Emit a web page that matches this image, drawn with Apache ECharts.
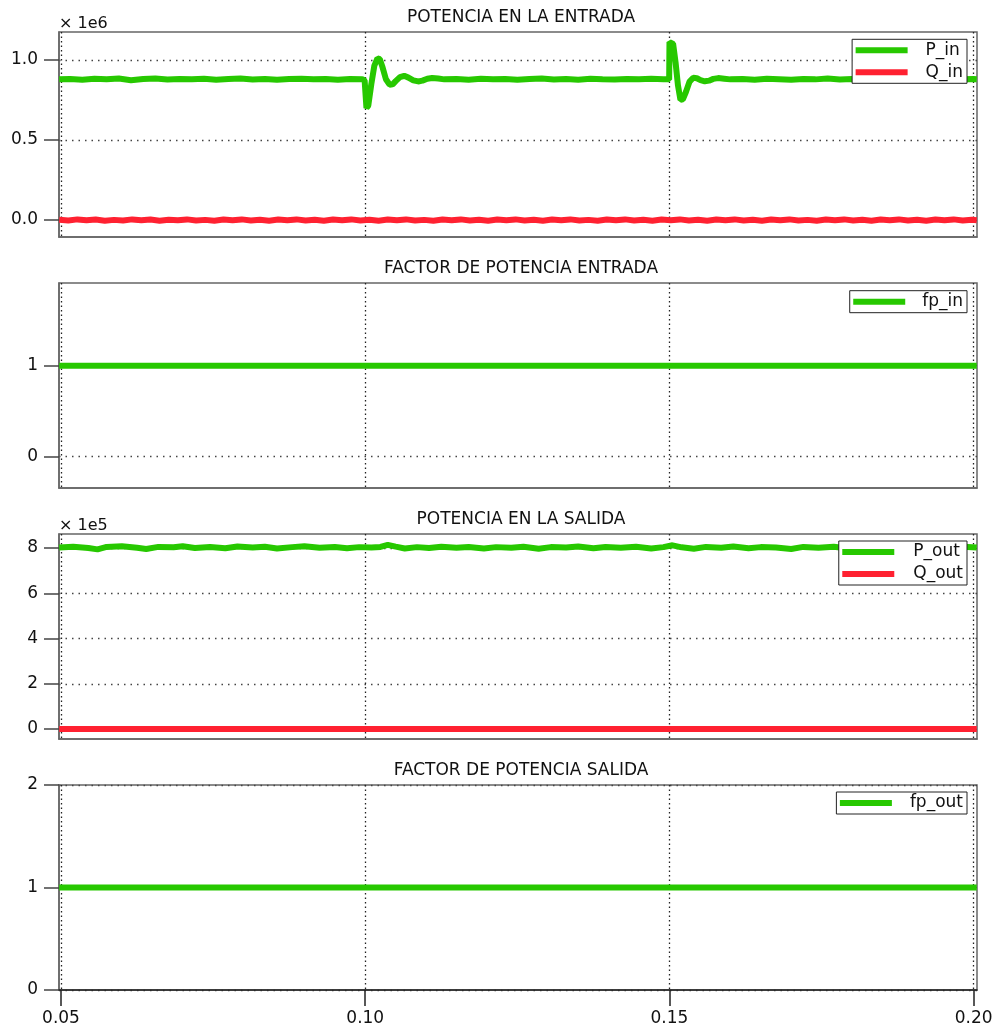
<!DOCTYPE html>
<html>
<head>
<meta charset="utf-8">
<script src="https://cdn.jsdelivr.net/npm/echarts@6/dist/echarts.min.js"></script>
<style>
html,body{margin:0;padding:0;background:#fff;}
#chart{width:1005px;height:1029px;}
</style>
</head>
<body>
<div id="chart"></div>
<script>
// ---------- DATA ----------
const titles = ['POTENCIA EN LA ENTRADA', 'FACTOR DE POTENCIA ENTRADA', 'POTENCIA EN LA SALIDA', 'FACTOR DE POTENCIA SALIDA'];
const xTicks = [0.05, 0.10, 0.15, 0.20];
const yTicks1 = [0, 0.5, 1.0];   // x 1e6
const yTicks2 = [0, 1];
const yTicks3 = [0, 2, 4, 6, 8]; // x 1e5
const yTicks4 = [0, 1, 2];

// P_in (x 1e6) : [time, value]
const pIn = [
[0.0497,0.879],[0.0515,0.882],[0.0535,0.877],[0.0555,0.883],[0.0575,0.880],[0.0595,0.884],[0.0615,0.874],[0.0635,0.881],[0.0655,0.884],[0.0675,0.878],
[0.0695,0.882],[0.0715,0.879],[0.0735,0.883],[0.0755,0.877],[0.0775,0.881],[0.0795,0.884],[0.0815,0.878],[0.0835,0.882],[0.0855,0.876],[0.0875,0.881],
[0.0895,0.883],[0.0915,0.879],[0.0935,0.882],[0.0955,0.877],[0.0975,0.881],[0.0995,0.880],
[0.0999,0.872],[0.1002,0.700],[0.1005,0.715],[0.1010,0.850],[0.1015,0.965],[0.1020,1.010],[0.1024,1.005],[0.1028,0.960],[0.1034,0.880],[0.1040,0.846],
[0.1045,0.848],[0.1050,0.868],[0.1057,0.893],[0.1064,0.901],[0.1071,0.890],[0.1079,0.873],[0.1087,0.866],[0.1094,0.871],[0.1102,0.883],[0.1110,0.888],
[0.1120,0.884],[0.1130,0.879],
[0.1150,0.882],[0.1170,0.877],[0.1190,0.883],[0.1210,0.879],[0.1230,0.881],[0.1250,0.876],[0.1270,0.882],[0.1290,0.884],[0.1310,0.878],[0.1330,0.881],
[0.1350,0.877],[0.1370,0.883],[0.1390,0.880],[0.1410,0.878],[0.1430,0.882],[0.1450,0.879],[0.1470,0.883],[0.1490,0.880],[0.14995,0.879],
[0.1500,1.112],[0.1503,1.118],[0.1506,1.100],[0.1510,0.985],[0.1514,0.840],[0.1518,0.752],[0.1522,0.755],[0.1527,0.800],[0.1533,0.865],[0.1539,0.889],
[0.1545,0.886],[0.1551,0.874],[0.1558,0.867],[0.1565,0.871],[0.1572,0.882],[0.1580,0.887],[0.1590,0.883],[0.1600,0.879],
[0.1620,0.882],[0.1640,0.877],[0.1660,0.883],[0.1680,0.880],[0.1700,0.876],[0.1720,0.882],[0.1740,0.879],[0.1760,0.884],[0.1780,0.878],[0.1800,0.881],
[0.1820,0.877],[0.1840,0.882],[0.1860,0.880],[0.1880,0.883],[0.1900,0.878],[0.1920,0.881],[0.1940,0.879],[0.1960,0.883],[0.1980,0.880],[0.2000,0.881],[0.2005,0.880]
];

// Q_in (x 1e6)
const qIn = [
[0.0497,0.002],[0.0512,-0.003],[0.0527,0.004],[0.0542,-0.002],[0.0557,0.003],[0.0572,-0.004],[0.0587,0.001],[0.0602,-0.003],[0.0617,0.004],[0.0632,-0.001],
[0.0647,0.003],[0.0662,-0.004],[0.0677,0.002],[0.0692,-0.002],[0.0707,0.004],[0.0722,-0.003],[0.0737,0.001],[0.0752,-0.004],[0.0767,0.003],[0.0782,-0.002],
[0.0797,0.004],[0.0812,-0.003],[0.0827,0.002],[0.0842,-0.004],[0.0857,0.003],[0.0872,-0.001],[0.0887,0.004],[0.0902,-0.003],[0.0917,0.002],[0.0932,-0.004],
[0.0947,0.003],[0.0962,-0.002],[0.0977,0.004],[0.0992,-0.003],[0.1007,0.002],[0.1022,-0.004],[0.1037,0.003],[0.1052,-0.002],[0.1067,0.004],[0.1082,-0.003],
[0.1097,0.001],[0.1112,-0.004],[0.1127,0.003],[0.1142,-0.002],[0.1157,0.004],[0.1172,-0.003],[0.1187,0.002],[0.1202,-0.004],[0.1217,0.003],[0.1232,-0.001],
[0.1247,0.004],[0.1262,-0.003],[0.1277,0.002],[0.1292,-0.004],[0.1307,0.003],[0.1322,-0.002],[0.1337,0.004],[0.1352,-0.003],[0.1367,0.001],[0.1382,-0.004],
[0.1397,0.003],[0.1412,-0.002],[0.1427,0.004],[0.1442,-0.003],[0.1457,0.002],[0.1472,-0.004],[0.1487,0.003],[0.1502,-0.002],[0.1517,0.004],[0.1532,-0.003],
[0.1547,0.002],[0.1562,-0.004],[0.1577,0.003],[0.1592,-0.001],[0.1607,0.004],[0.1622,-0.003],[0.1637,0.002],[0.1652,-0.004],[0.1667,0.003],[0.1682,-0.002],
[0.1697,0.004],[0.1712,-0.003],[0.1727,0.001],[0.1742,-0.004],[0.1757,0.003],[0.1772,-0.002],[0.1787,0.004],[0.1802,-0.003],[0.1817,0.002],[0.1832,-0.004],
[0.1847,0.003],[0.1862,-0.001],[0.1877,0.004],[0.1892,-0.003],[0.1907,0.002],[0.1922,-0.004],[0.1937,0.003],[0.1952,-0.002],[0.1967,0.004],[0.1982,-0.003],
[0.1997,0.002],[0.2005,-0.001]
];

// fp_in
const fpIn = [[0.0497,1],[0.2005,1]];

// P_out (x 1e5)
const pOut = [
[0.0497,8.02],[0.0520,8.06],[0.0545,8.00],[0.0560,7.94],[0.0575,8.05],[0.0600,8.08],[0.0625,8.01],[0.0640,7.96],[0.0660,8.05],[0.0685,8.03],
[0.0700,8.08],[0.0720,8.00],[0.0745,8.05],[0.0770,7.99],[0.0790,8.07],[0.0815,8.02],[0.0835,8.06],[0.0855,7.98],[0.0880,8.04],[0.0900,8.08],
[0.0925,8.01],[0.0950,8.05],[0.0970,7.99],[0.0990,8.04],[0.1010,8.02],[0.1025,8.05],[0.1037,8.14],[0.1050,8.06],[0.1065,7.98],[0.1085,8.04],
[0.1105,8.00],[0.1125,8.06],[0.1150,8.01],[0.1170,8.05],[0.1195,7.98],[0.1215,8.04],[0.1240,8.01],[0.1260,8.06],[0.1285,7.97],[0.1305,8.04],
[0.1330,8.02],[0.1350,8.07],[0.1375,7.99],[0.1395,8.05],[0.1420,8.01],[0.1445,8.06],[0.1470,7.98],[0.1490,8.04],[0.1505,8.12],[0.1520,8.03],
[0.1540,7.97],[0.1560,8.05],[0.1585,8.01],[0.1605,8.07],[0.1630,7.99],[0.1650,8.04],[0.1675,8.02],[0.1700,7.96],[0.1720,8.05],[0.1745,8.01],
[0.1770,8.06],[0.1790,7.99],[0.1815,8.04],[0.1840,8.00],[0.1860,8.06],[0.1885,7.98],[0.1905,8.04],[0.1930,8.01],[0.1950,8.07],[0.1975,8.00],
[0.1990,8.05],[0.2005,8.02]
];

// Q_out (x 1e5)
const qOut = [[0.0497,0],[0.2005,0]];

// fp_out
const fpOut = [[0.0497,1],[0.2005,1]];

// ---------- LAYOUT / STYLE ----------
const FONT = 'DejaVu Sans';
const GREEN = '#27c800';
const RED = '#ff2131';
const gridTops = [32, 283, 534, 785];
const gridH = 205;
const yRanges = [[-0.106, 1.175], [-0.344, 1.909], [-0.44, 8.62], [0, 2]];
const yTickSets = [yTicks1, yTicks2, yTicks3, yTicks4];
const yFmt = [v => v.toFixed(1), v => String(v), v => String(v), v => String(v)];
const yNames = ['× 1e6', '', '× 1e5', ''];

const grids = gridTops.map(t => ({
  left: 59, right: 28, top: t, height: gridH,
  show: true, borderColor: '#666', borderWidth: 1.5, backgroundColor: 'transparent'
}));

const xAxes = gridTops.map((t, i) => ({
  type: 'value', gridIndex: i, min: 0.04967, max: 0.20054,
  axisLine: { show: true, onZero: false, lineStyle: { color: i === 3 ? '#222' : '#666', width: 1.5 } },
  axisTick: { show: i === 3, inside: false, length: 16, customValues: xTicks,
              lineStyle: { color: '#222', width: 1.5 } },
  axisLabel: { show: i === 3, customValues: xTicks, formatter: v => v.toFixed(2),
               fontSize: 17, fontFamily: FONT, color: '#111', margin: 20 },
  splitLine: { show: true, lineStyle: { type: [1.5, 3], color: '#222', width: 1.3 } }
}));

const yAxes = gridTops.map((t, i) => ({
  type: 'value', gridIndex: i, min: yRanges[i][0], max: yRanges[i][1],
  name: yNames[i], nameLocation: 'end', nameGap: 0,
  nameTextStyle: { fontSize: 16, fontFamily: FONT, color: '#111', align: 'left' },
  axisLine: { show: true, onZero: false, lineStyle: { color: '#666', width: 1.5 } },
  axisTick: { show: true, inside: false, length: 15, customValues: yTickSets[i],
              lineStyle: { color: '#444', width: 1.5 } },
  axisLabel: { show: true, customValues: yTickSets[i], formatter: yFmt[i],
               fontSize: 17, fontFamily: FONT, color: '#111', margin: 21 },
  splitLine: { show: true, lineStyle: { type: [1.5, 5], color: '#444', width: 1.3 } }
}));

const titleOpts = titles.map((txt, i) => ({
  text: txt, left: 521, top: gridTops[i] - 23, textAlign: 'center', padding: 0,
  textStyle: { fontSize: 17, fontWeight: 'normal', fontFamily: FONT, color: '#111' }
}));

function mkLegend(names, top, padLeft) {
  return {
    data: names, orient: 'vertical', right: 38, top: top,
    icon: 'rect', itemWidth: 52, itemHeight: 6, itemGap: 2,
    padding: [1, 4, 1, 3.5], borderColor: '#222', borderWidth: 1, borderRadius: 0,
    backgroundColor: '#fff', selectedMode: false,
    textStyle: { fontSize: 17, lineHeight: 20, fontFamily: FONT, color: '#111', padding: [0, 0, 0, padLeft] }
  };
}

const legends = [
  mkLegend(['P_in', 'Q_in'], 39.3, 13),
  mkLegend(['fp_in'], 290.7, 12),
  mkLegend(['P_out', 'Q_out'], 541, 14),
  mkLegend(['fp_out'], 792, 13)
];

function mkSeries(name, data, idx, color, width) {
  return {
    name: name, type: 'line', data: data, xAxisIndex: idx, yAxisIndex: idx,
    showSymbol: false, symbol: 'none', color: color,
    lineStyle: { color: color, width: width }, animation: false, z: 3
  };
}

const series = [
  mkSeries('Q_in', qIn, 0, RED, 6),
  mkSeries('P_in', pIn, 0, GREEN, 6),
  mkSeries('fp_in', fpIn, 1, GREEN, 6),
  mkSeries('Q_out', qOut, 2, RED, 6),
  mkSeries('P_out', pOut, 2, GREEN, 6),
  mkSeries('fp_out', fpOut, 3, GREEN, 6)
];

const chart = echarts.init(document.getElementById('chart'), null, { renderer: 'canvas' });
chart.setOption({
  animation: false,
  backgroundColor: '#fff',
  title: titleOpts,
  legend: legends,
  grid: grids,
  xAxis: xAxes,
  yAxis: yAxes,
  series: series
});
</script>
</body>
</html>
